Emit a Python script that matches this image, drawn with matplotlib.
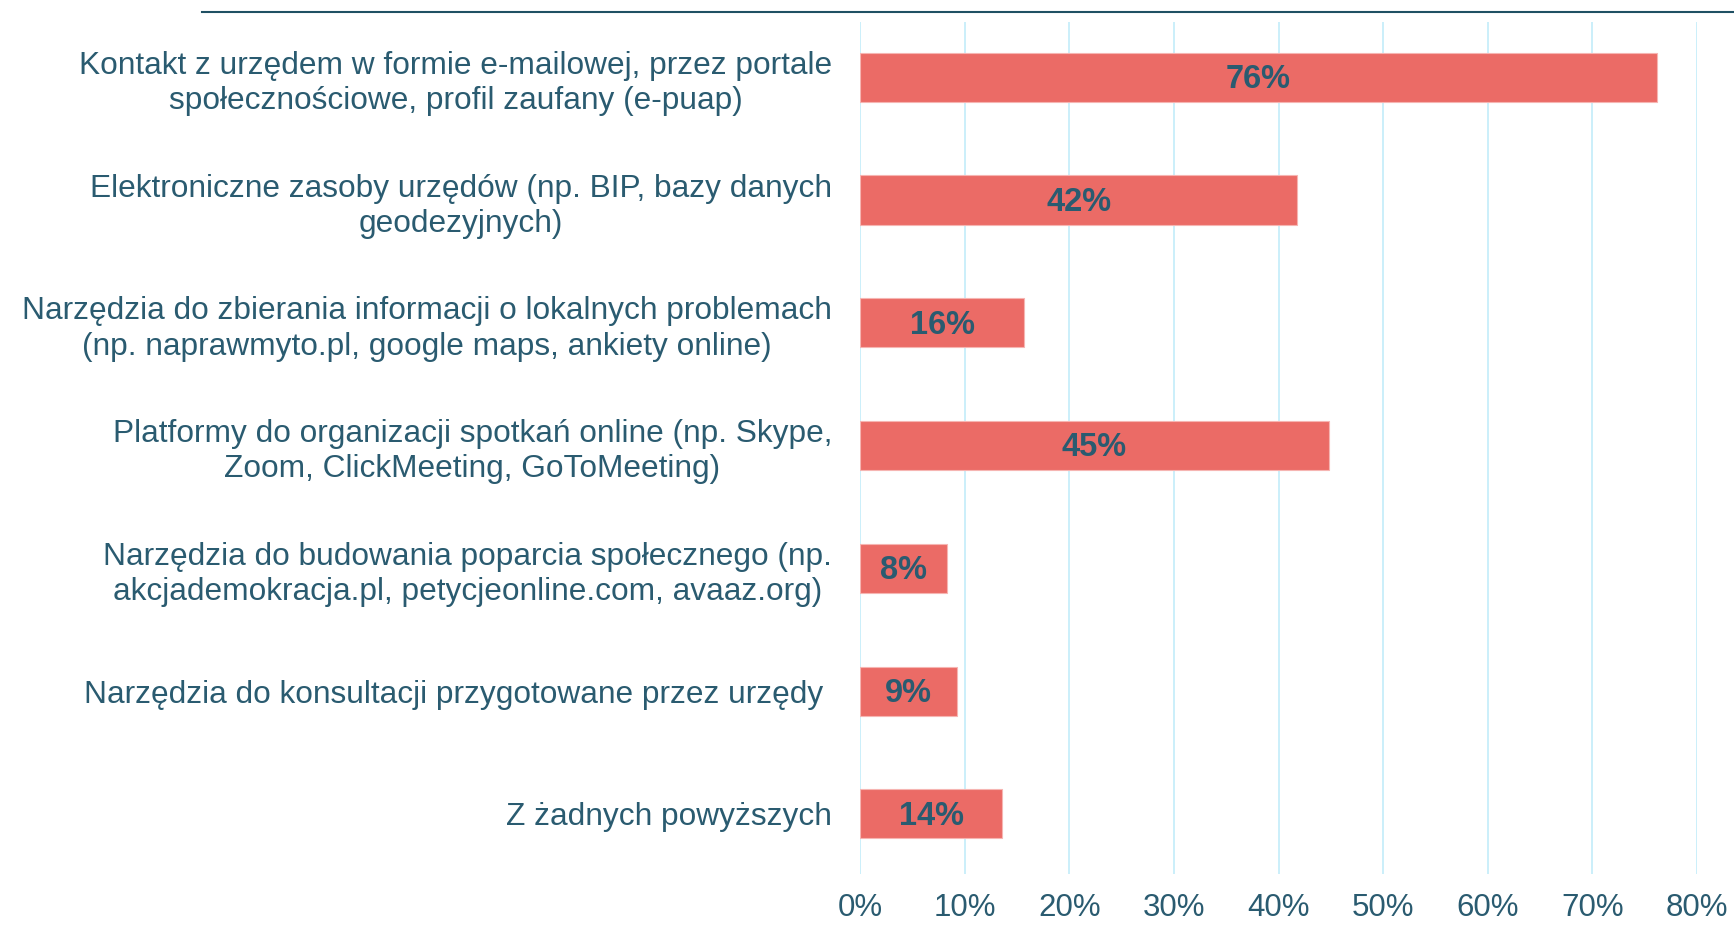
import matplotlib
matplotlib.use("Agg")
import matplotlib.pyplot as plt
from matplotlib.lines import Line2D

categories = [
    "Kontakt z urzędem w formie e-mailowej, przez portale\nspołecznościowe, profil zaufany (e-puap)",
    "Elektroniczne zasoby urzędów (np. BIP, bazy danych\ngeodezyjnych)",
    "Narzędzia do zbierania informacji o lokalnych problemach\n(np. naprawmyto.pl, google maps, ankiety online)",
    "Platformy do organizacji spotkań online (np. Skype,\nZoom, ClickMeeting, GoToMeeting)",
    "Narzędzia do budowania poparcia społecznego (np.\nakcjademokracja.pl, petycjeonline.com, avaaz.org)",
    "Narzędzia do konsultacji przygotowane przez urzędy ",
    "Z żadnych powyższych",
]
values = [76.2, 41.8, 15.7, 44.8, 8.3, 9.3, 13.6]
value_labels = ["76%", "42%", "16%", "45%", "8%", "9%", "14%"]
xticks = [0, 10, 20, 30, 40, 50, 60, 70, 80]
xtick_labels = ["0%", "10%", "20%", "30%", "40%", "50%", "60%", "70%", "80%"]

TEXT = "#2A5B70"
BAR = "#EB6B66"
GRID = "#C2ECF9"

plt.rcParams['font.family'] = ['Liberation Sans', 'DejaVu Sans']

W, H = 1734, 925
fig = plt.figure(figsize=(W / 100, H / 100), dpi=100)
ax = fig.add_axes([860 / W, 1 - 874 / H, (1697 - 860) / W, (874 - 22) / H])

y = list(range(len(categories)))
ax.barh(y, values, height=0.4, color=BAR, edgecolor="#F6B5B2", linewidth=0.8, zorder=3)
for yi, v, lab in zip(y, values, value_labels):
    ax.text(v / 2, yi + 0.02, lab, ha="center", va="center", fontsize=23.5,
            fontweight="bold", color=TEXT, zorder=4)

ax.set_xlim(0, 80)
ax.set_ylim(6.49, -0.45)
ax.set_xticks(xticks)
ax.set_xticklabels(xtick_labels, fontsize=22.5, color=TEXT)
ax.set_yticks(y)
ax.set_yticklabels(categories, fontsize=22.8, color=TEXT, ha="right",
                   multialignment="center", linespacing=1.23)
ax.tick_params(axis="x", length=0, pad=14)
ax.tick_params(axis="y", length=0, pad=20)
ax.grid(axis="x", color=GRID, linewidth=1.2, zorder=0)
ax.set_axisbelow(True)
for s in ax.spines.values():
    s.set_visible(False)

fig.add_artist(Line2D([202 / W, 1.0], [1 - 12 / H, 1 - 12 / H], color="#1F5063", linewidth=1.5))

fig.savefig("out.png", dpi=100)
